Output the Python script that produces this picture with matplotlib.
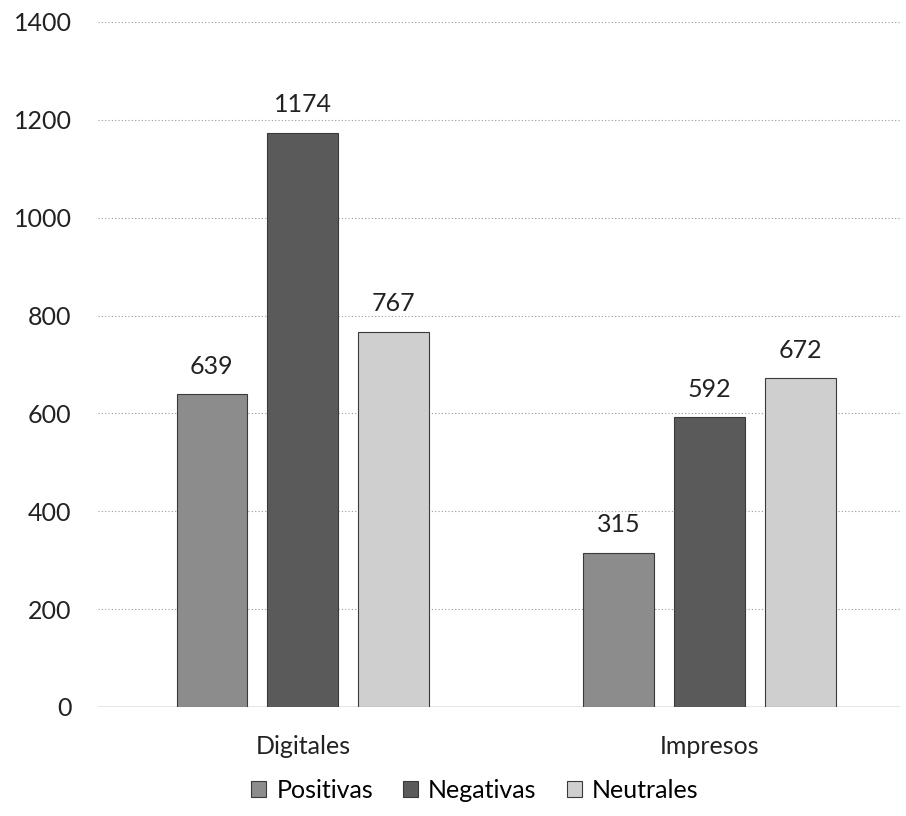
import numpy as np
import matplotlib.pyplot as plt

plt.rcParams['font.family'] = ['Lato', 'DejaVu Sans']

categorias = ['Digitales', 'Impresos']
series = ['Positivas', 'Negativas', 'Neutrales']
positivas = [639, 315]
negativas = [1174, 592]
neutrales = [767, 672]
colores = ['#8c8c8c', '#5a5a5a', '#cfcfcf']

fig = plt.figure(figsize=(9.06, 8.16), dpi=100)
ax = fig.add_axes([0.108, 0.1336, 0.885, 0.8395])

x = np.arange(len(categorias))
ancho = 0.174
paso = 0.2236
valores = [positivas, negativas, neutrales]
for i, (nombre, vals) in enumerate(zip(series, valores)):
    barras = ax.bar(x + (i - 1) * paso, vals, ancho, color=colores[i],
                    edgecolor='#3a3a3a', linewidth=0.8, label=nombre, zorder=3)
    for b, v in zip(barras, vals):
        ax.text(b.get_x() + b.get_width() / 2, v + 34, str(v),
                ha='center', va='bottom', fontsize=18, color='#222222')

ax.set_ylim(0, 1400)
ax.set_xlim(-0.504, 1.467)
ax.set_yticks(np.arange(0, 1401, 200))
ax.yaxis.grid(True, linestyle=(0, (1, 2)), color='#999999', linewidth=0.8, zorder=0)
ax.axhline(0, color='#888888', linewidth=1, zorder=2)
for s in ax.spines.values():
    s.set_visible(False)
ax.tick_params(axis='both', length=0, labelsize=18, colors='#222222')
ax.tick_params(axis='y', pad=19)
ax.tick_params(axis='x', pad=20)
ax.set_xticks(x)
ax.set_xticklabels(categorias)

ax.legend(loc='upper center', bbox_to_anchor=(0.47, -0.072), ncol=3, frameon=False,
          fontsize=18, handlelength=0.6, handleheight=0.6, handletextpad=0.4,
          columnspacing=1.2)

fig.savefig('out.png')
